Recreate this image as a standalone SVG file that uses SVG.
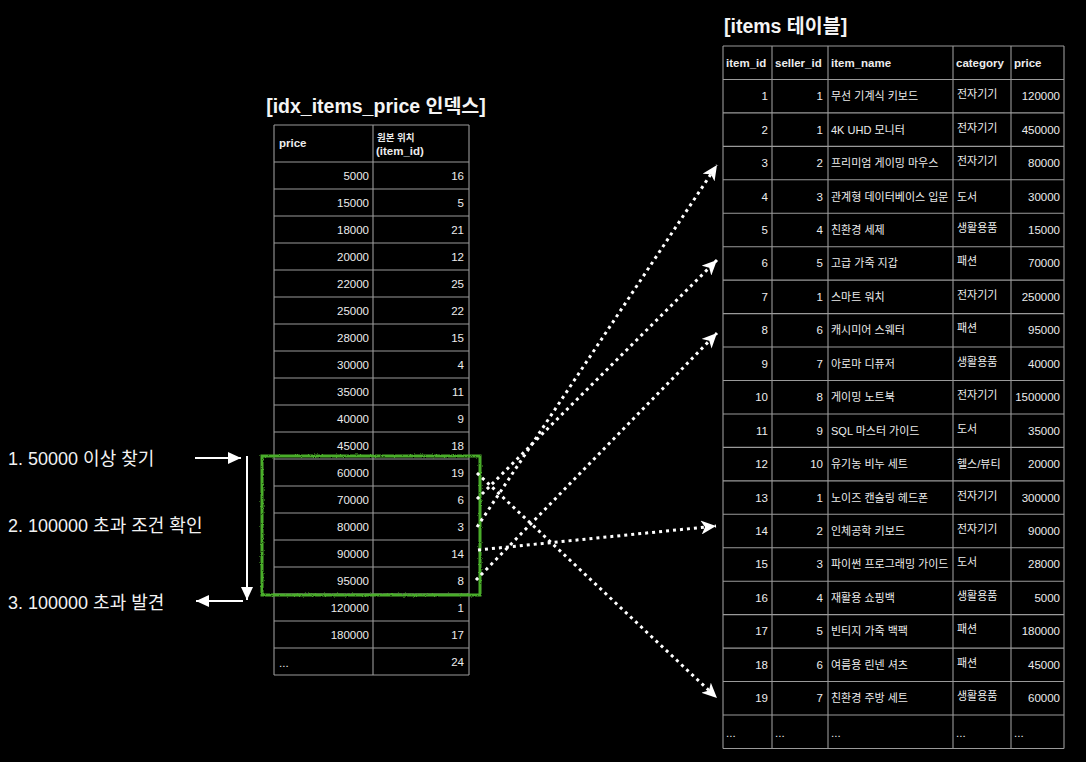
<svg xmlns="http://www.w3.org/2000/svg" width="1086" height="762" viewBox="0 0 1086 762">
<style>
text{font-family:"Liberation Sans","Noto Sans CJK KR",sans-serif;fill:#ececec}
.t{font-size:19.5px;font-weight:bold;fill:#f4f4f4}
.h{font-size:11.5px;font-weight:bold}
.hk{font-size:9.5px;font-weight:bold}
.d{font-size:11.5px}
.k{font-size:11px}
.r{text-anchor:end}
.g line{stroke:#9a9a9a;stroke-width:1.1}
.lab{font-size:18px;fill:#f2f2f2}
.dot{fill:none;stroke:#fff;stroke-width:3;stroke-dasharray:3 4}
.sol{fill:none;stroke:#fff;stroke-width:2}
</style>
<defs>
<marker id="ah" markerUnits="userSpaceOnUse" markerWidth="16" markerHeight="14" refX="15" refY="7" orient="auto">
<path d="M0,0 L15,7 L0,14 L4,7 Z" fill="#fff"/>
</marker>
<marker id="as" markerUnits="userSpaceOnUse" markerWidth="14" markerHeight="12" refX="13" refY="6" orient="auto">
<path d="M0,0 L13,6 L0,12 Z" fill="#fff"/>
</marker>
<filter id="rough" x="-5%" y="-5%" width="110%" height="110%">
<feTurbulence type="fractalNoise" baseFrequency="0.9" numOctaves="2" result="n"/>
<feDisplacementMap in="SourceGraphic" in2="n" scale="2.5"/>
</filter>
</defs>
<rect width="1086" height="762" fill="#000"/>

<g id="index-table">
<text class="t" x="376" y="113" text-anchor="middle">[idx_items_price 인덱스]</text>
<g class="g">
<line x1="274" y1="125" x2="469" y2="125"/>
<line x1="274" y1="162" x2="469" y2="162"/><line x1="274" y1="189" x2="469" y2="189"/><line x1="274" y1="216" x2="469" y2="216"/><line x1="274" y1="243" x2="469" y2="243"/><line x1="274" y1="270" x2="469" y2="270"/><line x1="274" y1="297" x2="469" y2="297"/><line x1="274" y1="324" x2="469" y2="324"/><line x1="274" y1="351" x2="469" y2="351"/><line x1="274" y1="378" x2="469" y2="378"/><line x1="274" y1="405" x2="469" y2="405"/><line x1="274" y1="432" x2="469" y2="432"/><line x1="274" y1="459" x2="469" y2="459"/><line x1="274" y1="486" x2="469" y2="486"/><line x1="274" y1="513" x2="469" y2="513"/><line x1="274" y1="540" x2="469" y2="540"/><line x1="274" y1="567" x2="469" y2="567"/><line x1="274" y1="594" x2="469" y2="594"/><line x1="274" y1="621" x2="469" y2="621"/><line x1="274" y1="648" x2="469" y2="648"/><line x1="274" y1="675" x2="469" y2="675"/>
<line x1="274" y1="125" x2="274" y2="675"/><line x1="373" y1="125" x2="373" y2="675"/><line x1="469" y1="125" x2="469" y2="675"/>
</g>
<text class="h" x="279" y="147">price</text>
<text class="hk" x="377" y="141">원본 위치</text>
<text class="h" x="376" y="155">(item_id)</text>
<g class="d">
<text class="r" x="369" y="180">5000</text><text class="r" x="464" y="180">16</text>
<text class="r" x="369" y="207">15000</text><text class="r" x="464" y="207">5</text>
<text class="r" x="369" y="234">18000</text><text class="r" x="464" y="234">21</text>
<text class="r" x="369" y="261">20000</text><text class="r" x="464" y="261">12</text>
<text class="r" x="369" y="288">22000</text><text class="r" x="464" y="288">25</text>
<text class="r" x="369" y="315">25000</text><text class="r" x="464" y="315">22</text>
<text class="r" x="369" y="342">28000</text><text class="r" x="464" y="342">15</text>
<text class="r" x="369" y="369">30000</text><text class="r" x="464" y="369">4</text>
<text class="r" x="369" y="396">35000</text><text class="r" x="464" y="396">11</text>
<text class="r" x="369" y="423">40000</text><text class="r" x="464" y="423">9</text>
<text class="r" x="369" y="450">45000</text><text class="r" x="464" y="450">18</text>
<text class="r" x="369" y="477">60000</text><text class="r" x="464" y="477">19</text>
<text class="r" x="369" y="504">70000</text><text class="r" x="464" y="504">6</text>
<text class="r" x="369" y="531">80000</text><text class="r" x="464" y="531">3</text>
<text class="r" x="369" y="558">90000</text><text class="r" x="464" y="558">14</text>
<text class="r" x="369" y="585">95000</text><text class="r" x="464" y="585">8</text>
<text class="r" x="369" y="612">120000</text><text class="r" x="464" y="612">1</text>
<text class="r" x="369" y="639">180000</text><text class="r" x="464" y="639">17</text>
<text x="279" y="667">...</text><text class="r" x="464" y="666">24</text>
</g>
</g>

<g id="items-table">
<text class="t" x="724" y="33">[items 테이블]</text>
<g class="g">
<line x1="723" y1="46" x2="1064" y2="46"/><line x1="723" y1="79.45" x2="1064" y2="79.45"/><line x1="723" y1="112.9" x2="1064" y2="112.9"/><line x1="723" y1="146.35" x2="1064" y2="146.35"/><line x1="723" y1="179.8" x2="1064" y2="179.8"/><line x1="723" y1="213.25" x2="1064" y2="213.25"/><line x1="723" y1="246.7" x2="1064" y2="246.7"/><line x1="723" y1="280.15" x2="1064" y2="280.15"/><line x1="723" y1="313.6" x2="1064" y2="313.6"/><line x1="723" y1="347.05" x2="1064" y2="347.05"/><line x1="723" y1="380.5" x2="1064" y2="380.5"/><line x1="723" y1="413.95" x2="1064" y2="413.95"/><line x1="723" y1="447.4" x2="1064" y2="447.4"/><line x1="723" y1="480.85" x2="1064" y2="480.85"/><line x1="723" y1="514.3" x2="1064" y2="514.3"/><line x1="723" y1="547.75" x2="1064" y2="547.75"/><line x1="723" y1="581.2" x2="1064" y2="581.2"/><line x1="723" y1="614.65" x2="1064" y2="614.65"/><line x1="723" y1="648.1" x2="1064" y2="648.1"/><line x1="723" y1="681.55" x2="1064" y2="681.55"/><line x1="723" y1="715" x2="1064" y2="715"/><line x1="723" y1="748.45" x2="1064" y2="748.45"/>
<line x1="723" y1="46" x2="723" y2="748.45"/><line x1="772" y1="46" x2="772" y2="748.45"/><line x1="828" y1="46" x2="828" y2="748.45"/><line x1="953" y1="46" x2="953" y2="748.45"/><line x1="1011" y1="46" x2="1011" y2="748.45"/><line x1="1064" y1="46" x2="1064" y2="748.45"/>
</g>
<text class="h" x="726" y="67">item_id</text><text class="h" x="775" y="67">seller_id</text><text class="h" x="831" y="67">item_name</text><text class="h" x="956" y="67">category</text><text class="h" x="1014" y="67">price</text>
<g class="d">
<text class="r" x="768" y="100.15">1</text><text class="r" x="823" y="100.15">1</text><text class="k" x="831" y="100.15">무선 기계식 키보드</text><text class="k" x="957" y="98.15">전자기기</text><text class="r" x="1060" y="100.15">120000</text>
<text class="r" x="768" y="133.6">2</text><text class="r" x="823" y="133.6">1</text><text class="k" x="831" y="133.6">4K UHD 모니터</text><text class="k" x="957" y="131.6">전자기기</text><text class="r" x="1060" y="133.6">450000</text>
<text class="r" x="768" y="167.05">3</text><text class="r" x="823" y="167.05">2</text><text class="k" x="831" y="167.05">프리미엄 게이밍 마우스</text><text class="k" x="957" y="165.05">전자기기</text><text class="r" x="1060" y="167.05">80000</text>
<text class="r" x="768" y="200.5">4</text><text class="r" x="823" y="200.5">3</text><text class="k" x="831" y="200.5">관계형 데이터베이스 입문</text><text class="k" x="957" y="200.5">도서</text><text class="r" x="1060" y="200.5">30000</text>
<text class="r" x="768" y="233.95">5</text><text class="r" x="823" y="233.95">4</text><text class="k" x="831" y="233.95">친환경 세제</text><text class="k" x="957" y="231.95">생활용품</text><text class="r" x="1060" y="233.95">15000</text>
<text class="r" x="768" y="267.4">6</text><text class="r" x="823" y="267.4">5</text><text class="k" x="831" y="267.4">고급 가죽 지갑</text><text class="k" x="957" y="265.4">패션</text><text class="r" x="1060" y="267.4">70000</text>
<text class="r" x="768" y="300.85">7</text><text class="r" x="823" y="300.85">1</text><text class="k" x="831" y="300.85">스마트 워치</text><text class="k" x="957" y="298.85">전자기기</text><text class="r" x="1060" y="300.85">250000</text>
<text class="r" x="768" y="334.3">8</text><text class="r" x="823" y="334.3">6</text><text class="k" x="831" y="334.3">캐시미어 스웨터</text><text class="k" x="957" y="332.3">패션</text><text class="r" x="1060" y="334.3">95000</text>
<text class="r" x="768" y="367.75">9</text><text class="r" x="823" y="367.75">7</text><text class="k" x="831" y="367.75">아로마 디퓨저</text><text class="k" x="957" y="365.75">생활용품</text><text class="r" x="1060" y="367.75">40000</text>
<text class="r" x="768" y="401.2">10</text><text class="r" x="823" y="401.2">8</text><text class="k" x="831" y="401.2">게이밍 노트북</text><text class="k" x="957" y="399.2">전자기기</text><text class="r" x="1060" y="401.2">1500000</text>
<text class="r" x="768" y="434.65">11</text><text class="r" x="823" y="434.65">9</text><text class="k" x="831" y="434.65">SQL 마스터 가이드</text><text class="k" x="957" y="432.65">도서</text><text class="r" x="1060" y="434.65">35000</text>
<text class="r" x="768" y="468.1">12</text><text class="r" x="823" y="468.1">10</text><text class="k" x="831" y="468.1">유기농 비누 세트</text><text class="k" x="957" y="468.1">헬스/뷰티</text><text class="r" x="1060" y="468.1">20000</text>
<text class="r" x="768" y="501.55">13</text><text class="r" x="823" y="501.55">1</text><text class="k" x="831" y="501.55">노이즈 캔슬링 헤드폰</text><text class="k" x="957" y="499.55">전자기기</text><text class="r" x="1060" y="501.55">300000</text>
<text class="r" x="768" y="535">14</text><text class="r" x="823" y="535">2</text><text class="k" x="831" y="535">인체공학 키보드</text><text class="k" x="957" y="533">전자기기</text><text class="r" x="1060" y="535">90000</text>
<text class="r" x="768" y="568.45">15</text><text class="r" x="823" y="568.45">3</text><text class="k" x="831" y="568.45">파이썬 프로그래밍 가이드</text><text class="k" x="957" y="566.45">도서</text><text class="r" x="1060" y="568.45">28000</text>
<text class="r" x="768" y="601.9">16</text><text class="r" x="823" y="601.9">4</text><text class="k" x="831" y="601.9">재활용 쇼핑백</text><text class="k" x="957" y="599.9">생활용품</text><text class="r" x="1060" y="601.9">5000</text>
<text class="r" x="768" y="635.35">17</text><text class="r" x="823" y="635.35">5</text><text class="k" x="831" y="635.35">빈티지 가죽 백팩</text><text class="k" x="957" y="633.35">패션</text><text class="r" x="1060" y="635.35">180000</text>
<text class="r" x="768" y="668.8">18</text><text class="r" x="823" y="668.8">6</text><text class="k" x="831" y="668.8">여름용 린넨 셔츠</text><text class="k" x="957" y="666.8">패션</text><text class="r" x="1060" y="668.8">45000</text>
<text class="r" x="768" y="702.25">19</text><text class="r" x="823" y="702.25">7</text><text class="k" x="831" y="702.25">친환경 주방 세트</text><text class="k" x="957" y="700.25">생활용품</text><text class="r" x="1060" y="702.25">60000</text>
<text x="726" y="737">...</text><text x="775" y="737">...</text><text x="831" y="737">...</text><text x="956" y="737">...</text><text x="1014" y="737">...</text>
</g>
</g>

<g id="scan-range">
<rect x="262" y="456" width="218" height="139" fill="none" stroke="#4aad2c" stroke-width="3" filter="url(#rough)"/>
</g>

<g id="step1"><text class="lab" x="8" y="465">1. 50000 이상 찾기</text></g>
<g id="step2"><text class="lab" x="8" y="532">2. 100000 초과 조건 확인</text></g>
<g id="step3"><text class="lab" x="8" y="609">3. 100000 초과 발견</text></g>

<g id="connectors">
<line class="sol" x1="195" y1="458" x2="241" y2="458" marker-end="url(#as)"/>
<line class="sol" x1="247" y1="456" x2="247" y2="600" marker-end="url(#as)"/>
<line class="sol" x1="243" y1="601" x2="196" y2="601" marker-end="url(#as)"/>
<line class="dot" x1="477" y1="473" x2="717" y2="698" marker-end="url(#ah)"/>
<line class="dot" x1="477" y1="499" x2="717" y2="260" marker-end="url(#ah)"/>
<line class="dot" x1="477" y1="527" x2="717" y2="165" marker-end="url(#ah)"/>
<line class="dot" x1="478" y1="550" x2="716" y2="526" marker-end="url(#ah)"/>
<line class="dot" x1="476" y1="580" x2="717" y2="333" marker-end="url(#ah)"/>
</g>
</svg>
